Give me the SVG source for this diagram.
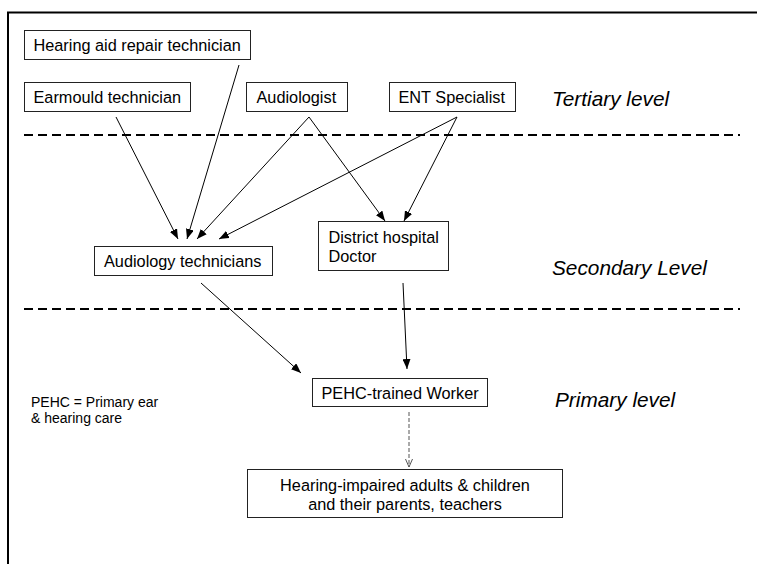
<svg xmlns="http://www.w3.org/2000/svg" width="757" height="564" viewBox="0 0 757 564">
  <style>
    .box { fill: #ffffff; stroke: #222222; stroke-width: 1; }
    .lbl { font-family: "Liberation Sans", Arial, sans-serif; font-size: 16.3px; fill: #000000; }
    .lvl { font-family: "Liberation Sans", Arial, sans-serif; font-size: 20.8px; font-style: italic; fill: #000000; }
    .note { font-family: "Liberation Sans", Arial, sans-serif; font-size: 14px; fill: #000000; }
    .sep { stroke: #000000; stroke-width: 2; stroke-dasharray: 9 5; fill: none; }
    .edge { stroke: #000000; stroke-width: 1; fill: none; marker-end: url(#arrow); }
    .soft { stroke: #555555; stroke-width: 1; stroke-dasharray: 4 2; fill: none; marker-end: url(#openArrow); }
  </style>
  <defs>
    <marker id="arrow" markerUnits="userSpaceOnUse" markerWidth="10" markerHeight="8" viewBox="0 0 10 8" refX="10" refY="4" orient="auto">
      <path d="M0,0 L10,4 L0,8 Z" fill="#000000"/>
    </marker>
    <marker id="openArrow" markerUnits="userSpaceOnUse" markerWidth="8" markerHeight="8" viewBox="0 0 8 8" refX="8" refY="4" orient="auto">
      <path d="M0,0.5 L8,4 L0,7.5" fill="none" stroke="#555555" stroke-width="1"/>
    </marker>
  </defs>

  <rect width="757" height="564" fill="#ffffff"/>

  <!-- frame: top and left edges -->
  <path d="M8,564 L8,12.5 L757,12.5" fill="none" stroke="#000000" stroke-width="2"/>

  <!-- level separators -->
  <line class="sep" x1="24" y1="135" x2="740" y2="135"/>
  <line class="sep" x1="24" y1="309" x2="740" y2="309"/>

  <!-- level labels -->
  <text class="lvl" x="552" y="106">Tertiary level</text>
  <text class="lvl" x="552" y="275">Secondary Level</text>
  <text class="lvl" x="555" y="407">Primary level</text>

  <!-- abbreviation note -->
  <text class="note" x="31" y="407">PEHC = Primary ear</text>
  <text class="note" x="31" y="423">&amp; hearing care</text>

  <g id="connectors">
    <line class="edge" x1="116" y1="117" x2="178" y2="239"/>
    <line class="edge" x1="239" y1="65" x2="187" y2="239"/>
    <line class="edge" x1="309" y1="117" x2="197" y2="239"/>
    <line class="edge" x1="457" y1="117" x2="219" y2="239"/>
    <line class="edge" x1="309" y1="117" x2="385" y2="221"/>
    <line class="edge" x1="457" y1="117" x2="404" y2="221"/>
    <line class="edge" x1="201" y1="283" x2="301" y2="373"/>
    <line class="edge" x1="403" y1="283" x2="407" y2="369"/>
    <line class="soft" x1="409" y1="412" x2="409" y2="467"/>
  </g>

  <g id="node-repair">
    <rect class="box" x="24.5" y="30.5" width="226" height="29"/>
    <text class="lbl" x="33.5" y="51">Hearing aid repair technician</text>
  </g>

  <g id="node-earmould">
    <rect class="box" x="24.5" y="82.5" width="166" height="29"/>
    <text class="lbl" x="33.5" y="102.5">Earmould technician</text>
  </g>

  <g id="node-audiologist">
    <rect class="box" x="246.5" y="82.5" width="101" height="29"/>
    <text class="lbl" x="256.5" y="102.5">Audiologist</text>
  </g>

  <g id="node-ent">
    <rect class="box" x="389.5" y="82.5" width="126" height="29"/>
    <text class="lbl" x="398.5" y="102.5">ENT Specialist</text>
  </g>

  <g id="node-audiology-tech">
    <rect class="box" x="94.5" y="246.5" width="178" height="29"/>
    <text class="lbl" x="104" y="266.5">Audiology technicians</text>
  </g>

  <g id="node-district">
    <rect class="box" x="318.5" y="221.5" width="130" height="49"/>
    <text class="lbl" x="328.5" y="243">District hospital</text>
    <text class="lbl" x="328.5" y="262">Doctor</text>
  </g>

  <g id="node-pehc-worker">
    <rect class="box" x="312.5" y="378.5" width="175" height="28"/>
    <text class="lbl" x="321.5" y="399">PEHC-trained Worker</text>
  </g>

  <g id="node-impaired">
    <rect class="box" x="247.5" y="469.5" width="315" height="48"/>
    <text class="lbl" x="405" y="490.5" text-anchor="middle">Hearing-impaired adults &amp; children</text>
    <text class="lbl" x="405" y="509.5" text-anchor="middle">and their parents, teachers</text>
  </g>
</svg>
